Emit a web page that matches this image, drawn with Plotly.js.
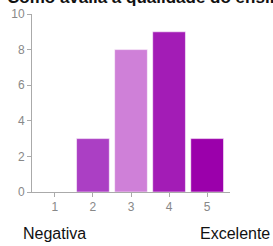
<!DOCTYPE html>
<html>
<head>
<meta charset="utf-8">
<script src="https://cdn.plot.ly/plotly-3.0.1.min.js"></script>
<style>html,body{margin:0;padding:0;background:#fff;}#chart{width:273px;height:246px;}</style>
</head>
<body>
<div id="chart"></div>
<script>
var categories = [1, 2, 3, 4, 5];
var counts = [0, 3, 8, 9, 3];
var barColors = ['#ab3fc4', '#ab3fc4', '#cf80d8', '#a31cb6', '#9b00ab'];
var yTicks = [0, 2, 4, 6, 8, 10];
var titleText = 'Como avalia a qualidade do ensino?';
var lowLabel = 'Negativa';
var highLabel = 'Excelente';

var trace = {
  type: 'bar',
  x: categories,
  y: counts,
  width: 0.86,
  marker: {color: barColors, line: {color: 'rgba(255,255,255,0.55)', width: 1}},
  hoverinfo: 'none'
};

var F = 'Liberation Sans, Arial, sans-serif';
var layout = {
  width: 273, height: 246,
  margin: {l: 32, r: 43, t: 14, b: 54},
  paper_bgcolor: '#fff', plot_bgcolor: '#fff',
  showlegend: false,
  font: {family: F, size: 12, color: '#777'},
  xaxis: {range: [0.4, 5.6], tickvals: categories, ticktext: categories.map(String), ticks: 'outside', ticklen: 4,
          tickcolor: '#aaa', showline: true, linecolor: '#aaa', linewidth: 1, showgrid: false, zeroline: false,
          tickfont: {size: 12, color: '#888'}, fixedrange: true},
  yaxis: {range: [0, 10], tickvals: yTicks, ticks: 'outside', ticklen: 4, tickcolor: '#aaa', showline: true,
          linecolor: '#aaa', linewidth: 1, showgrid: false, zeroline: false, tickfont: {size: 12, color: '#888'}, fixedrange: true},
  annotations: [
    {text: '<b>' + titleText + '</b>', xref: 'paper', x: -0.136, xanchor: 'left', yref: 'paper', y: 1.09, yanchor: 'middle',
     showarrow: false, font: {size: 17, color: '#111', family: F}},
    {text: lowLabel, xref: 'x', x: categories[0], xanchor: 'center', yref: 'paper', y: -0.232, yanchor: 'middle',
     showarrow: false, font: {size: 16, color: '#111', family: F}},
    {text: highLabel, xref: 'paper', x: 1.21, xanchor: 'right', yref: 'paper', y: -0.232, yanchor: 'middle',
     showarrow: false, font: {size: 16, color: '#111', family: F}}
  ]
};

Plotly.newPlot('chart', [trace], layout, {displayModeBar: false, staticPlot: true});
</script>
</body>
</html>
